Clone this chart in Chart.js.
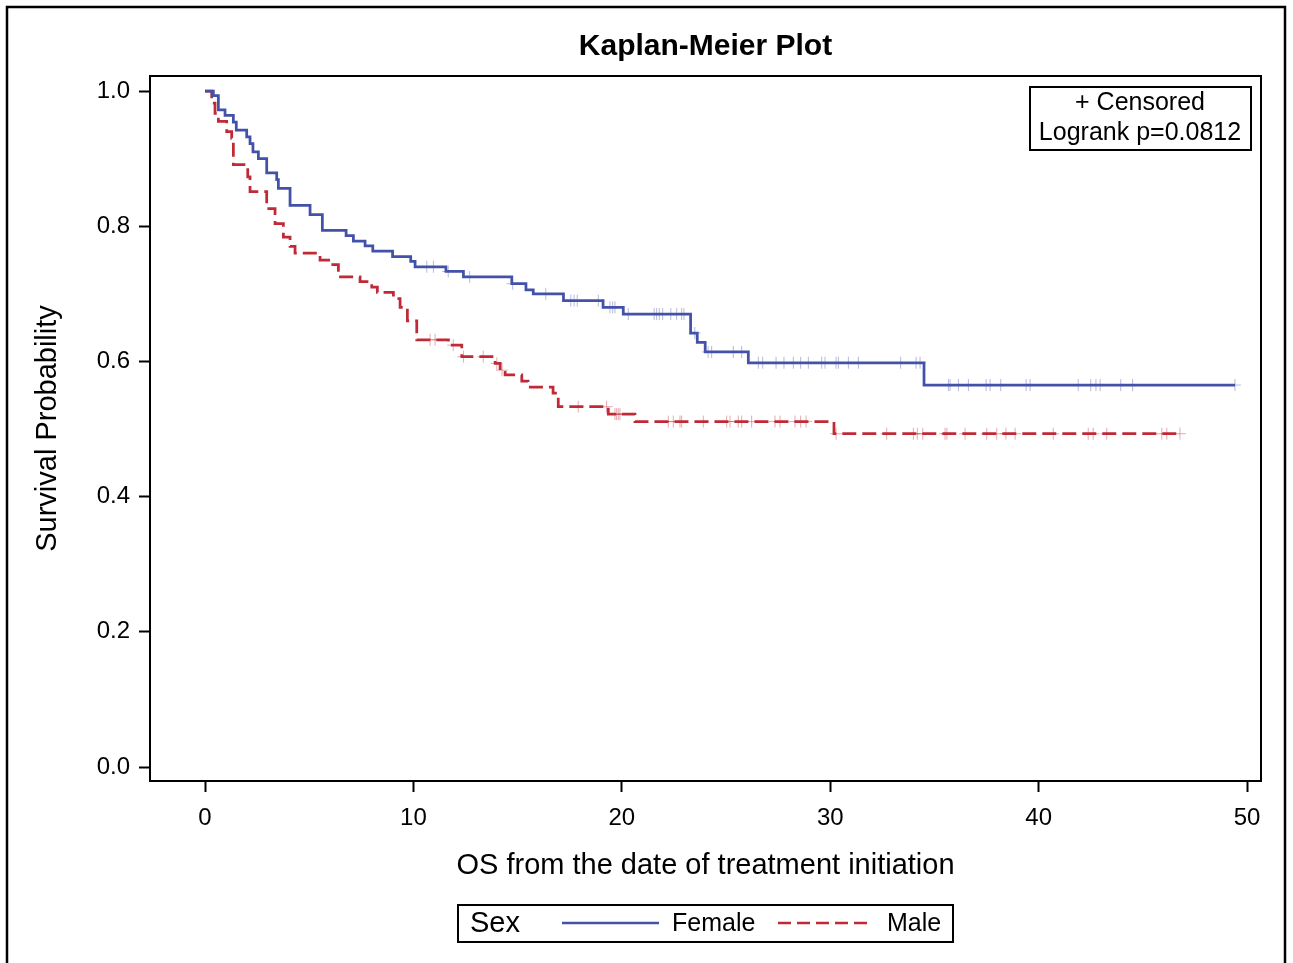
<!DOCTYPE html>
<html>
<head>
<meta charset="utf-8">
<title>Kaplan-Meier Plot</title>
<script src="https://cdn.jsdelivr.net/npm/chart.js@4"></script>
<style>
  body { margin: 0; background: #fff; }
  #wrap { width: 1293px; height: 963px; }
</style>
</head>
<body>
<div id="wrap"><canvas id="kmChart" width="1293" height="963"></canvas></div>
<script>
// Female: step times and survival after each step
const femaleTime = [0, 0.40, 0.64, 0.96, 1.36, 1.50, 2.00, 2.16, 2.30, 2.56, 2.96, 3.44, 3.52, 4.08, 5.04, 5.63,
  6.77, 7.12, 7.68, 8.05, 9.00, 9.87, 10.08, 11.56, 12.40, 14.72, 15.40, 15.75, 17.20, 19.10, 20.07,
  23.30, 23.62, 24.00, 26.07, 34.50, 49.42];
const femaleSurv = [1.0, 0.993, 0.972, 0.964, 0.954, 0.942, 0.932, 0.922, 0.910, 0.900, 0.879, 0.869, 0.856, 0.831, 0.817, 0.794,
  0.786, 0.778, 0.771, 0.763, 0.755, 0.748, 0.740, 0.733, 0.725, 0.715, 0.706, 0.700, 0.690, 0.680, 0.670,
  0.642, 0.628, 0.614, 0.598, 0.565, 0.565];
const femaleCensor = [10.64, 10.96, 11.67, 12.70, 14.76, 16.35, 17.55, 17.71, 17.86, 18.87, 19.43, 19.56, 19.67,
  20.31, 21.55, 21.67, 21.80, 21.96, 22.35, 22.63, 22.87, 22.98, 23.50, 24.14, 24.31, 25.35, 25.75,
  26.55, 26.76, 27.40, 27.78, 28.23, 28.58, 28.95, 29.59, 29.75, 30.28, 30.39, 30.87, 31.35, 33.38, 34.12, 34.31,
  35.67, 35.75, 36.15, 36.63, 37.48, 37.67, 38.18, 39.40, 39.59, 41.90, 42.50, 42.75, 42.95, 43.94, 44.51, 49.42];

// Male
const maleTime = [0, 0.32, 0.48, 0.64, 1.04, 1.28, 1.36, 2.05, 2.16, 2.96, 3.36, 3.76, 4.08, 4.32, 5.52, 6.13,
  6.40, 7.44, 8.00, 8.27, 9.04, 9.36, 9.71, 10.16, 11.68, 12.32, 13.92, 14.16, 14.40, 15.20, 15.50,
  16.70, 16.95, 19.35, 20.63, 30.18, 46.78];
const maleSurv = [1.0, 0.982, 0.967, 0.955, 0.940, 0.930, 0.891, 0.873, 0.851, 0.826, 0.804, 0.784, 0.770, 0.760, 0.750, 0.743,
  0.725, 0.718, 0.710, 0.702, 0.693, 0.680, 0.660, 0.632, 0.624, 0.607, 0.597, 0.587, 0.580, 0.571, 0.562,
  0.553, 0.533, 0.522, 0.511, 0.493, 0.493];
const maleCensor = [10.80, 11.04, 11.91, 12.40, 13.35, 14.00, 14.25, 17.91, 19.27, 19.67, 19.75, 19.83, 19.91,
  22.23, 22.47, 22.79, 22.87, 23.91, 25.03, 25.19, 25.59, 25.75, 26.23, 27.35, 27.59, 28.31, 28.58, 28.84,
  30.28, 32.71, 33.99, 34.18, 34.44, 35.51, 35.60, 36.47, 37.51, 37.99, 38.43, 38.87, 40.70, 42.38, 42.62,
  43.27, 45.91, 46.15, 46.78];

const xTicks = [0, 10, 20, 30, 40, 50];
const yTicks = [0, 0.2, 0.4, 0.6, 0.8, 1.0];

const blue = '#4351a8';
const red = '#bf2a36';
const fontFam = '"Liberation Sans", Arial, sans-serif';

// survival value at time t (for placing the censor marks on the curve)
function survAt(times, surv, t) {
    let s = surv[0];
    for (let i = 0; i < times.length; i++) {
        if (times[i] <= t) s = surv[i];
    }
    return s;
}

const femaleLine = femaleTime.map((t, i) => ({ x: t, y: femaleSurv[i] }));
const maleLine = maleTime.map((t, i) => ({ x: t, y: maleSurv[i] }));
const femaleMarks = femaleCensor.map(t => ({ x: t, y: survAt(femaleTime, femaleSurv, t) }));
const maleMarks = maleCensor.map(t => ({ x: t, y: survAt(maleTime, maleSurv, t) }));

// frame, titles, inset and legend boxes
const decorPlugin = {
    id: 'decor',
    afterDraw(chart) {
        const ctx = chart.ctx;
        const a = chart.chartArea;
        ctx.save();
        ctx.strokeStyle = '#000';
        ctx.lineWidth = 2;
        ctx.strokeRect(a.left, a.top, a.right - a.left, a.bottom - a.top);

        // outer border
        ctx.lineWidth = 2.5;
        ctx.strokeRect(7, 7, 1278, 980);

        ctx.fillStyle = '#000';
        ctx.textAlign = 'center';
        ctx.textBaseline = 'middle';
        ctx.font = 'bold 30px ' + fontFam;
        ctx.fillText('Kaplan-Meier Plot', (a.left + a.right) / 2, 47);

        ctx.font = '29px ' + fontFam;
        ctx.fillText('OS from the date of treatment initiation', (a.left + a.right) / 2, 866);

        ctx.save();
        ctx.translate(48, (a.top + a.bottom) / 2);
        ctx.rotate(-Math.PI / 2);
        ctx.fillText('Survival Probability', 0, 0);
        ctx.restore();

        // inset box
        ctx.lineWidth = 2;
        ctx.strokeRect(1030, 87, 221, 63);
        ctx.font = '25px ' + fontFam;
        ctx.fillText('+ Censored', 1140, 103);
        ctx.fillText('Logrank p=0.0812', 1140, 133);

        // legend box
        ctx.strokeRect(458, 905, 495, 37);
        ctx.textAlign = 'left';
        ctx.font = '29px ' + fontFam;
        ctx.fillText('Sex', 470, 924);
        ctx.font = '25px ' + fontFam;
        ctx.fillText('Female', 672, 924);
        ctx.fillText('Male', 887, 924);
        ctx.lineWidth = 2.5;
        ctx.strokeStyle = blue;
        ctx.beginPath();
        ctx.moveTo(562, 923);
        ctx.lineTo(659, 923);
        ctx.stroke();
        ctx.strokeStyle = red;
        ctx.setLineDash([13, 6]);
        ctx.beginPath();
        ctx.moveTo(778, 923);
        ctx.lineTo(873, 923);
        ctx.stroke();
        ctx.restore();
    }
};

const kmConfig = {
    type: 'line',
    data: {
        datasets: [
            {
                label: 'Female',
                data: femaleLine,
                stepped: 'before',
                borderColor: blue,
                borderWidth: 2.75,
                pointRadius: 0,
                fill: false
            },
            {
                label: 'Male',
                data: maleLine,
                stepped: 'before',
                borderColor: red,
                borderWidth: 2.75,
                borderDash: [14, 6],
                pointRadius: 0,
                fill: false
            },
            {
                type: 'scatter',
                label: 'Female censored',
                data: femaleMarks,
                pointStyle: 'cross',
                pointRadius: 6,
                pointBorderWidth: 1,
                borderColor: 'rgba(67, 81, 168, 0.4)',
                showLine: false
            },
            {
                type: 'scatter',
                label: 'Male censored',
                data: maleMarks,
                pointStyle: 'cross',
                pointRadius: 6,
                pointBorderWidth: 1,
                borderColor: 'rgba(191, 42, 54, 0.4)',
                showLine: false
            }
        ]
    },
    options: {
        responsive: false,
        animation: false,
        layout: { padding: { left: 0, top: 76, right: 32, bottom: 0 } },
        plugins: {
            legend: { display: false },
            title: { display: false },
            tooltip: { enabled: false }
        },
        scales: {
            x: {
                type: 'linear',
                min: -2.64,
                max: 50.67,
                afterFit(s) { s.height = 963 - 781; },
                afterBuildTicks(s) { s.ticks = xTicks.map(v => ({ value: v })); },
                grid: { drawOnChartArea: false, drawTicks: true, tickLength: 11, tickColor: '#000', tickWidth: 2 },
                border: { display: true, color: '#000', width: 2 },
                ticks: { color: '#000', padding: 12, font: { family: fontFam, size: 24 }, maxRotation: 0 }
            },
            y: {
                type: 'linear',
                min: -0.0207,
                max: 1.0222,
                afterFit(s) { s.width = 150; },
                afterBuildTicks(s) { s.ticks = yTicks.map(v => ({ value: v })); },
                grid: { drawOnChartArea: false, drawTicks: true, tickLength: 11, tickColor: '#000', tickWidth: 2 },
                border: { display: true, color: '#000', width: 2 },
                ticks: {
                    color: '#000', padding: 9, font: { family: fontFam, size: 24 },
                    callback: v => v.toFixed(1)
                }
            }
        }
    },
    plugins: [decorPlugin]
};

window.onload = function() {
    const kmCtx = document.getElementById('kmChart').getContext('2d');
    new Chart(kmCtx, kmConfig);
};
</script>
</body>
</html>
